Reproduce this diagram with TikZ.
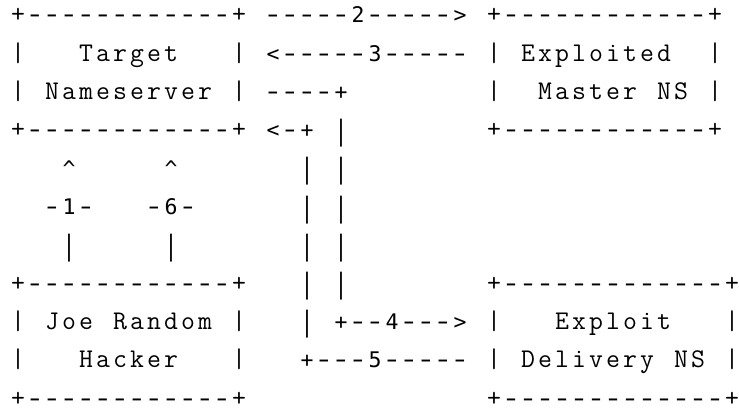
\documentclass[tikz,border=0pt]{standalone}
\usepackage{graphicx}
\usepackage{fontspec}
\newfontfamily\linkfont{DejaVu Sans Mono}

% every character sits in its own fixed-width cell of the text grid
\newlength\cellw
\setlength\cellw{17pt}
\newcommand\cells[1]{\cellsi#1\relax}
\def\cellsi#1{\ifx\relax#1\else\makebox[\cellw]{\cellglyph{#1}}\expandafter\cellsi\fi}
% box style: heavier, wider border dashes; link style: wider dashes and longer bars
\newcommand\boxglyph[1]{%
  \ifx-#1{\linkfont\fontsize{24pt}{28pt}\selectfont\scalebox{1.35}[1]{-}}%
  \else#1\fi}
\newcommand\linkglyph[1]{%
  \ifx-#1\scalebox{1.55}[1.1]{-}%
  \else\ifx|#1\raisebox{-2.5pt}{\scalebox{1}[1.3]{|}}%
  \else#1\fi\fi}
\let\cellglyph\boxglyph

% place a run of characters at grid column #2, text row #3
\newcommand\place[5]{%
  \node[#4] (#1) at ({9.5pt+#2*17pt},{-23pt-(#3-1)*38.3pt}) {\cells{#5}};}

\tikzset{
  gridtext/.style={anchor=base west, inner sep=0pt, outer sep=0pt, text=black},
  boxtxt/.style={gridtext,
    font=\ttfamily\fontsize{27pt}{32pt}\selectfont\let\cellglyph\boxglyph},
  linktxt/.style={gridtext,
    font=\linkfont\fontsize{21.5pt}{26pt}\selectfont\let\cellglyph\linkglyph},
}

\begin{document}
\begin{tikzpicture}
\fill[white] (0,0) rectangle (739pt,-412pt);
\useasboundingbox (0,0) rectangle (739pt,-412pt);

% Target Nameserver
\place{tnA}{0}{1}{boxtxt}{+------------+}
\place{tnB}{0}{2}{boxtxt}{|~~~Target~~~|}
\place{tnC}{0}{3}{boxtxt}{|~Nameserver~|}
\place{tnD}{0}{4}{boxtxt}{+------------+}

% Exploited Master NS
\place{emA}{28}{1}{boxtxt}{+------------+}
\place{emB}{28}{2}{boxtxt}{|~Exploited~~|}
\place{emC}{28}{3}{boxtxt}{|~~Master~NS~|}
\place{emD}{28}{4}{boxtxt}{+------------+}

% Joe Random Hacker
\place{jrA}{0}{8}{boxtxt}{+------------+}
\place{jrB}{0}{9}{boxtxt}{|~Joe~Random~|}
\place{jrC}{0}{10}{boxtxt}{|~~~Hacker~~~|}
\place{jrD}{0}{11}{boxtxt}{+------------+}

% Exploit Delivery NS
\place{edA}{28}{8}{boxtxt}{+-------------+}
\place{edB}{28}{9}{boxtxt}{|~~~Exploit~~~|}
\place{edC}{28}{10}{boxtxt}{|~Delivery~NS~|}
\place{edD}{28}{11}{boxtxt}{+-------------+}

% steps 2 and 3 between the top boxes
\place{s2}{15}{1}{linktxt}{-----2----->}
\place{s3}{15}{2}{linktxt}{<-----3-----}

% steps 1 and 6 up from the hacker
\place{s1up}{3}{5}{linktxt}{\textasciicircum}
\place{s6up}{9}{5}{linktxt}{\textasciicircum}
\place{s1}{2}{6}{linktxt}{-1-}
\place{s6}{8}{6}{linktxt}{-6-}
\place{s1bar}{3}{7}{linktxt}{|}
\place{s6bar}{9}{7}{linktxt}{|}

% steps 4 and 5: the two long runs down the middle
\place{s4top}{15}{3}{linktxt}{----+}
\place{s5top}{15}{4}{linktxt}{<-+}
\place{s4a}{19}{4}{linktxt}{|}
\foreach \r in {5,6,7,8} {
  \place{s5v\r}{17}{\r}{linktxt}{|}
  \place{s4v\r}{19}{\r}{linktxt}{|}
}
\place{s5v9}{17}{9}{linktxt}{|}
\place{s4}{19}{9}{linktxt}{+--4--->}
\place{s5}{17}{10}{linktxt}{+---5-----}
\end{tikzpicture}
\end{document}
